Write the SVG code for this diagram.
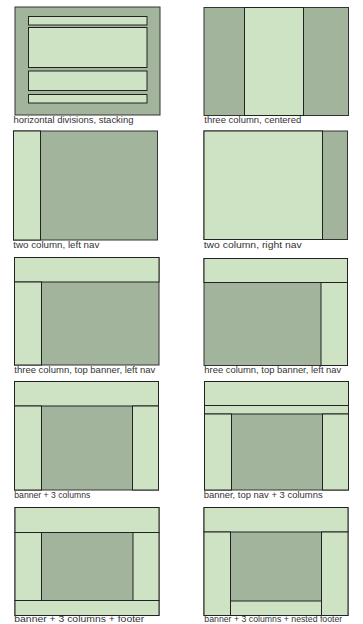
<svg xmlns="http://www.w3.org/2000/svg" width="363" height="624" viewBox="0 0 363 624">
<style>
.d{fill:#a2b59c;stroke:#333;stroke-width:1}
.l{fill:#cde3c4;stroke:#222;stroke-width:1}
text{font-family:"Liberation Sans",Arial,sans-serif;font-size:9.5px;fill:#333}
</style>
<rect width="363" height="624" fill="#fff"/>
<g id="horizontal-divisions">
<rect class="d" x="15" y="7" width="145" height="108"/>
<rect class="l" x="28.5" y="16.5" width="118.5" height="8.5"/>
<rect class="l" x="28.5" y="27.5" width="118.5" height="40"/>
<rect class="l" x="28.5" y="71" width="118.5" height="19.5"/>
<rect class="l" x="28.5" y="94.5" width="118.5" height="8.5"/>
<text x="13.5" y="123" textLength="120" lengthAdjust="spacingAndGlyphs">horizontal divisions, stacking</text>
</g>
<g id="three-column-centered">
<rect class="d" x="204" y="7.5" width="144.5" height="108"/>
<rect class="l" x="244.5" y="7.5" width="59" height="108"/>
<text x="204.3" y="123" textLength="97" lengthAdjust="spacingAndGlyphs">three column, centered</text>
</g>
<g id="two-column-left-nav">
<rect class="d" x="13.5" y="131" width="144" height="109"/>
<rect class="l" x="13.5" y="131" width="27" height="109"/>
<text x="13.3" y="248" textLength="86" lengthAdjust="spacingAndGlyphs">two column, left nav</text>
</g>
<g id="two-column-right-nav">
<rect class="d" x="204" y="131" width="143.5" height="108.5"/>
<rect class="l" x="204" y="131" width="118.5" height="108.5"/>
<text x="203.7" y="248" textLength="98" lengthAdjust="spacingAndGlyphs">two column, right nav</text>
</g>
<g id="three-column-top-banner-left-nav">
<rect class="d" x="14.5" y="257.5" width="144.5" height="107.5"/>
<rect class="l" x="14.5" y="257.5" width="144.5" height="24.5"/>
<rect class="l" x="14.5" y="282" width="27" height="83"/>
<text x="14.3" y="373" textLength="141" lengthAdjust="spacingAndGlyphs">three column, top banner, left nav</text>
</g>
<g id="three-column-top-banner-right-nav">
<rect class="d" x="204" y="258.5" width="143.5" height="107"/>
<rect class="l" x="204" y="258.5" width="143.5" height="24"/>
<rect class="l" x="321" y="282.5" width="26.5" height="83"/>
<text x="204.3" y="373" textLength="137" lengthAdjust="spacingAndGlyphs">hree column, top banner, left nav</text>
</g>
<g id="banner-3-columns">
<rect class="d" x="14.5" y="381.5" width="144" height="108.5"/>
<rect class="l" x="14.5" y="381.5" width="144" height="24.5"/>
<rect class="l" x="14.5" y="406" width="27" height="84"/>
<rect class="l" x="132.5" y="406" width="26" height="84"/>
<text x="14.3" y="498" textLength="76" lengthAdjust="spacingAndGlyphs">banner + 3 columns</text>
</g>
<g id="banner-top-nav-3-columns">
<rect class="d" x="204.5" y="381.5" width="144" height="108.5"/>
<rect class="l" x="204.5" y="381.5" width="144" height="24"/>
<rect class="l" x="204.5" y="405.5" width="144" height="8.5"/>
<rect class="l" x="204.5" y="414" width="27" height="76"/>
<rect class="l" x="322.5" y="414" width="26" height="76"/>
<text x="203.7" y="498" textLength="119" lengthAdjust="spacingAndGlyphs">banner, top nav + 3 columns</text>
</g>
<g id="banner-3-columns-footer">
<rect class="d" x="15" y="507.5" width="144" height="108"/>
<rect class="l" x="15" y="507.5" width="144" height="25"/>
<rect class="l" x="15" y="532.5" width="26.5" height="68"/>
<rect class="l" x="133" y="532.5" width="26" height="68"/>
<rect class="l" x="15" y="600.5" width="144" height="15"/>
<text x="14.3" y="622" textLength="130" lengthAdjust="spacingAndGlyphs">banner + 3 columns + footer</text>
</g>
<g id="banner-3-columns-nested-footer">
<rect class="d" x="204" y="507.5" width="144" height="108"/>
<rect class="l" x="204" y="507.5" width="144" height="24.5"/>
<rect class="l" x="204" y="532" width="26.5" height="83.5"/>
<rect class="l" x="321.5" y="532" width="26.5" height="83.5"/>
<rect class="l" x="230.5" y="601" width="91" height="14.5"/>
<text x="204.3" y="622" textLength="138" lengthAdjust="spacingAndGlyphs">banner + 3 columns + nested footer</text>
</g>
<g id="connectors"/>
</svg>
